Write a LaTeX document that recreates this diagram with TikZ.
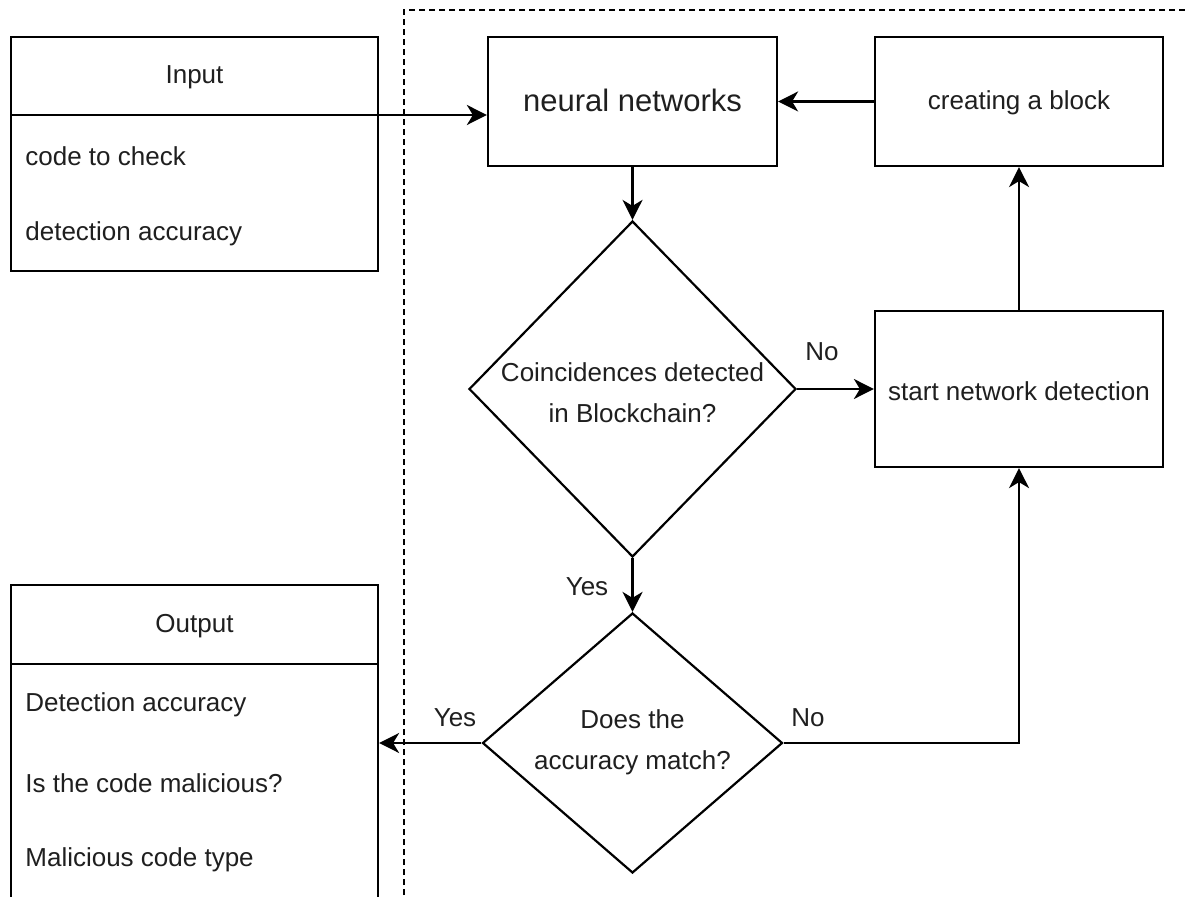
\documentclass[tikz,border=0pt]{standalone}
\usepackage{fontspec}
\setmainfont{Liberation Sans}
\usetikzlibrary{shapes.geometric,arrows.meta}
\begin{document}
\begin{tikzpicture}[x=0.5pt,y=-0.5pt,
  every node/.style={text=black!88},
  txt/.style={font=\fontsize{13}{20.5}\selectfont, inner sep=0pt},
  bigtxt/.style={font=\fontsize{15.5}{19}\selectfont, inner sep=0pt},
  stepbox/.style={draw=black, line width=1.1pt, rectangle, inner sep=0pt},
  decision/.style={draw=black, line width=1.1pt, diamond, inner sep=0pt, aspect=1},
  flow/.style={draw=black, line width=1.1pt, -{Stealth[length=10pt,width=10pt,inset=3pt]}},
  frame/.style={draw=black, line width=1.1pt, dash pattern=on 3pt off 2pt}
]
\path[use as bounding box, clip] (0,0) rectangle (1188,897);
\fill[white] (0,0) rectangle (1188,897);

% dashed processing area
\coordinate (fa) at (404,905);
\coordinate (fb) at (404,10);
\coordinate (fc) at (1195,10);
\draw[frame] (fa) -- (fb) -- (fc);

% input list
\node[stepbox, minimum width=183.5pt, minimum height=117pt] (inp) at (194.5,154) {};
\coordinate (inDivL) at (11,115);
\draw[line width=1.1pt] (inDivL) -- (inp.east |- inDivL);
\node[txt] (inTitle) at (194.5,77) {Input};
\node[txt, anchor=west] (inA) at (25,156) {code to check};
\node[txt, anchor=west] (inB) at (25,234) {detection accuracy};

% output list
\node[stepbox, minimum width=183.5pt, minimum height=167.5pt] (out) at (194.5,752.5) {};
\coordinate (outDivL) at (11,664);
\draw[line width=1.1pt] (outDivL) -- (out.east |- outDivL);
\node[txt] (outTitle) at (194.5,626) {Output};
\node[txt, anchor=west] (outA) at (25,705) {Detection accuracy};
\node[txt, anchor=west] (outB) at (25,783) {Is the code malicious?};
\node[txt, anchor=west] (outC) at (25,860) {Malicious code type};

% process steps
\node[stepbox, minimum width=144.5pt, minimum height=64.5pt] (nn) at (632.5,101.5) {};
\node[bigtxt] (nnT) at (632.5,100) {neural networks};
\node[stepbox, minimum width=144pt, minimum height=64.5pt] (blk) at (1019,101.5) {};
\node[txt] (blkT) at (1019,103) {creating a block};
\node[stepbox, minimum width=144pt, minimum height=78pt] (snd) at (1019,389) {};
\node[txt] (sndT) at (1019,391) {start network detection};

% decisions
\node[decision, minimum width=163.5pt, minimum height=168pt] (d1) at (632.5,389) {};
\node[txt, align=center] (d1T) at (632.5,393) {Coincidences detected\\in Blockchain?};
\node[decision, minimum width=150pt, minimum height=130pt] (d2) at (632.5,743) {};
\node[txt, align=center] (d2T) at (632.5,742) {Does the\\accuracy match?};

% connectors
\draw[flow] (inp.east |- inDivL) -- (nn.west |- inDivL);
\draw[flow] (blk.west) -- (nn.east);
\draw[flow] (nn.south) -- (d1.north);
\draw[flow] (d1.east) -- (snd.west);
\draw[flow] (snd.north) -- (blk.south);
\draw[flow] (d1.south) -- (d2.north);
\draw[flow] (d2.east) -| (snd.south);
\draw[flow] (d2.west) -- (out.east |- d2.west);

% edge labels
\node[txt] (lNo1) at (822,352) {No};
\node[txt] (lYes1) at (587,587) {Yes};
\node[txt] (lNo2) at (808,718) {No};
\node[txt] (lYes2) at (455,718) {Yes};
\end{tikzpicture}
\end{document}
